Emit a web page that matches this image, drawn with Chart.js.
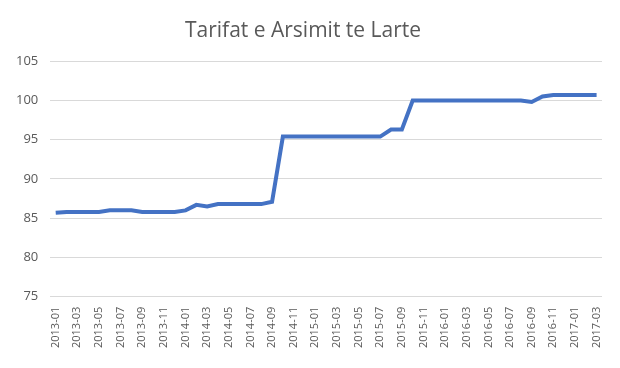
<!DOCTYPE html>
<html>
<head>
<meta charset="utf-8">
<script src="https://cdn.jsdelivr.net/npm/chart.js@4/dist/chart.umd.min.js"></script>
<style>
  html, body { margin: 0; padding: 0; background: #fff; }
  #wrap { width: 620px; height: 368px; }
</style>
</head>
<body>
<div id="wrap"><canvas id="tarifatChart" width="620" height="368"></canvas></div>
<script>
  /* Dati */
  const months = [
    "2013-01", "2013-02", "2013-03", "2013-04", "2013-05", "2013-06", "2013-07", "2013-08", "2013-09", "2013-10", "2013-11", "2013-12",
    "2014-01", "2014-02", "2014-03", "2014-04", "2014-05", "2014-06", "2014-07", "2014-08", "2014-09", "2014-10", "2014-11", "2014-12",
    "2015-01", "2015-02", "2015-03", "2015-04", "2015-05", "2015-06", "2015-07", "2015-08", "2015-09", "2015-10", "2015-11", "2015-12",
    "2016-01", "2016-02", "2016-03", "2016-04", "2016-05", "2016-06", "2016-07", "2016-08", "2016-09", "2016-10", "2016-11", "2016-12",
    "2017-01", "2017-02", "2017-03"
  ];
  const tarifat = [
    85.7, 85.8, 85.8, 85.8, 85.8, 86.0, 86.0, 86.0, 85.8, 85.8, 85.8, 85.8,
    86.0, 86.7, 86.5, 86.8, 86.8, 86.8, 86.8, 86.8, 87.1, 95.4, 95.4, 95.4,
    95.4, 95.4, 95.4, 95.4, 95.4, 95.4, 95.4, 96.3, 96.3, 100.0, 100.0, 100.0,
    100.0, 100.0, 100.0, 100.0, 100.0, 100.0, 100.0, 100.0, 99.8, 100.5, 100.7, 100.7,
    100.7, 100.7, 100.7
  ];
  const yMin = 75;
  const yMax = 105;
  const yStep = 5;

  const textColor = "#595959";
  const gridColor = "#d9d9d9";
  const fontFamily = "'Open Sans', 'Liberation Sans', sans-serif";

  const ctx = document.getElementById("tarifatChart").getContext("2d");

  new Chart(ctx, {
    type: "line",
    data: {
      labels: months,
      datasets: [
        {
          label: "Tarifat e Arsimit te Larte",
          data: tarifat,
          borderColor: "#4472c4",
          borderWidth: 4,
          pointRadius: 0,
          tension: 0,
          fill: false,
        },
      ],
    },
    options: {
      responsive: false,
      animation: false,
      layout: {
        padding: { left: 4, right: 18, top: 10, bottom: 10 },
      },
      plugins: {
        legend: { display: false },
        tooltip: { enabled: false },
        title: {
          display: true,
          text: "Tarifat e Arsimit te Larte",
          color: textColor,
          font: { family: fontFamily, size: 21, weight: "normal" },
          padding: { top: 8, bottom: 18 },
        },
      },
      scales: {
        x: {
          offset: true,
          grid: { display: false, drawTicks: false },
          border: { display: false },
          ticks: {
            autoSkip: false,
            maxRotation: 90,
            minRotation: 90,
            color: textColor,
            font: { family: fontFamily, size: 11 },
            padding: 10,
            callback: function (value, index) {
              return index % 2 === 0 ? months[index] : "";
            },
          },
        },
        y: {
          min: yMin,
          max: yMax,
          grid: { color: gridColor, lineWidth: 1, drawTicks: false },
          border: { display: false },
          ticks: {
            stepSize: yStep,
            color: textColor,
            font: { family: fontFamily, size: 13 },
            padding: 12,
          },
        },
      },
    },
  });
</script>
</body>
</html>
